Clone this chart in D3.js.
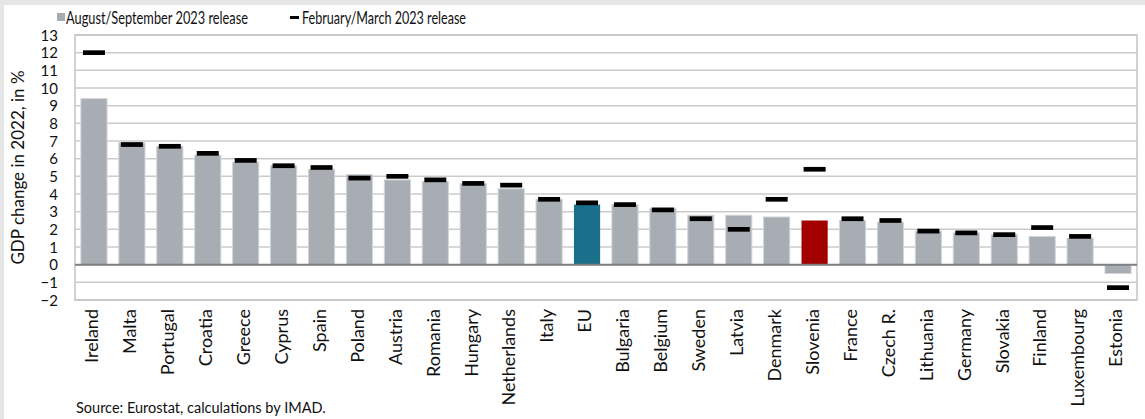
<!DOCTYPE html>
<html>
<head>
<meta charset="utf-8">
<script src="https://cdn.jsdelivr.net/npm/d3@7"></script>
<style>
  body { margin: 0; background: #e6e6e6; }
  svg { display: block; font-family: Lato, sans-serif; }
</style>
</head>
<body>
<svg id="chart"></svg>
<script>
const countries = ['Ireland', 'Malta', 'Portugal', 'Croatia', 'Greece', 'Cyprus', 'Spain', 'Poland', 'Austria',
  'Romania', 'Hungary', 'Netherlands', 'Italy', 'EU', 'Bulgaria', 'Belgium', 'Sweden', 'Latvia', 'Denmark',
  'Slovenia', 'France', 'Czech R.', 'Lithuania', 'Germany', 'Slovakia', 'Finland', 'Luxembourg', 'Estonia'];
// August/September 2023 release
const augSep = [9.4, 6.9, 6.7, 6.2, 5.8, 5.6, 5.4, 5.1, 4.8, 4.7, 4.6, 4.3, 3.7, 3.4, 3.4, 3.2, 2.8, 2.8, 2.7,
  2.5, 2.5, 2.4, 1.9, 1.8, 1.7, 1.6, 1.5, -0.5];
// February/March 2023 release
const febMar = [12.0, 6.8, 6.7, 6.3, 5.9, 5.6, 5.5, 4.9, 5.0, 4.8, 4.6, 4.5, 3.7, 3.5, 3.4, 3.1, 2.6, 2.0, 3.7,
  5.4, 2.6, 2.5, 1.9, 1.8, 1.7, 2.1, 1.6, -1.3];
const yTicks = [-2, -1, 0, 1, 2, 3, 4, 5, 6, 7, 8, 9, 10, 11, 12, 13];

let width = 1145, height = 419;
let margin = { left: 75, right: 8, top: 35, bottom: 119 };
let font = 'Lato, sans-serif';

const svg = d3.select('#chart')
    .attr('width', width)
    .attr('height', height);

// white panel, gray strip at top/left
svg.append('rect')
    .attr('x', 4).attr('y', 5)
    .attr('width', width - 4).attr('height', height - 5)
    .attr('fill', 'white');

const xScale = d3.scaleBand()
    .domain(countries)
    .range([margin.left, width - margin.right])
    .paddingInner(0.31)
    .paddingOuter(0.155);
const yScale = d3.scaleLinear()
    .domain([-2, 13])
    .range([height - margin.bottom, margin.top]);

// gridlines
svg.append('g')
    .selectAll('line')
    .data(yTicks)
    .enter()
    .append('line')
    .attr('x1', margin.left)
    .attr('x2', width - margin.right)
    .attr('y1', d => yScale(d))
    .attr('y2', d => yScale(d))
    .attr('stroke', '#cbcbcb')
    .attr('stroke-width', 1.5);

// frame
svg.append('rect')
    .attr('x', margin.left)
    .attr('y', yScale(13))
    .attr('width', width - margin.right - margin.left)
    .attr('height', yScale(-2) - yScale(13))
    .attr('fill', 'none')
    .attr('stroke', '#c4c4c4')
    .attr('stroke-width', 1.5);

const barColor = (d, i) => countries[i] === 'EU' ? '#1a6f8a' : countries[i] === 'Slovenia' ? '#a30000' : '#a7adb2';

svg.append('g')
    .selectAll('rect')
    .data(augSep)
    .enter()
    .append('rect')
    .attr('x', (d, i) => xScale(countries[i]))
    .attr('width', xScale.bandwidth())
    .attr('y', d => yScale(Math.max(d, 0)))
    .attr('height', d => Math.abs(yScale(d) - yScale(0)))
    .attr('fill', barColor)
    .attr('stroke', (d, i) => countries[i] === 'EU' || countries[i] === 'Slovenia' ? 'none' : '#d3d6d9')
    .attr('stroke-width', 1);

// zero line
svg.append('line')
    .attr('x1', margin.left)
    .attr('x2', width - margin.right)
    .attr('y1', yScale(0))
    .attr('y2', yScale(0))
    .attr('stroke', '#7d7f82')
    .attr('stroke-width', 2);

// markers
let markW = 22;
svg.append('g')
    .selectAll('line')
    .data(febMar)
    .enter()
    .append('line')
    .attr('x1', (d, i) => xScale(countries[i]) + xScale.bandwidth() / 2 - markW / 2)
    .attr('x2', (d, i) => xScale(countries[i]) + xScale.bandwidth() / 2 + markW / 2)
    .attr('y1', d => yScale(d))
    .attr('y2', d => yScale(d))
    .attr('stroke', '#000')
    .attr('stroke-width', 4.7);

// y axis
const yAxis = d3.axisLeft(yScale).tickValues(yTicks).tickFormat(d3.format('d')).tickSize(0).tickPadding(0);
const yG = svg.append('g')
    .attr('transform', `translate(${margin.left - 17},0)`)
    .call(yAxis)
    .attr('font-size', 15)
    .attr('font-family', font);
yG.select('.domain').remove();
yG.selectAll('text')
    .attr('fill', '#111')
    .attr('dy', '0.35em');

// x axis labels
const xAxis = d3.axisBottom(xScale).tickSize(0).tickPadding(0);
const xG = svg.append('g')
    .attr('transform', `translate(0,${yScale(-2)})`)
    .call(xAxis)
    .attr('font-size', 18)
    .attr('font-family', font);
xG.select('.domain').remove();
xG.selectAll('text')
    .attr('fill', '#111')
    .attr('text-anchor', 'end')
    .attr('transform', 'rotate(-90)')
    .attr('x', -9)
    .attr('y', -2)
    .attr('dy', '0.35em');

// y title
svg.append('text')
    .attr('transform', `translate(24,${(yScale(13) + yScale(-2)) / 2}) rotate(-90)`)
    .attr('text-anchor', 'middle')
    .attr('font-size', 17)
    .attr('fill', '#111')
    .text('GDP change in 2022, in %');

// legend
svg.append('rect')
    .attr('x', 57).attr('y', 13)
    .attr('width', 8).attr('height', 8)
    .attr('fill', '#a7adb2');
svg.append('text')
    .attr('x', 66).attr('y', 23.5)
    .attr('font-size', 16.5)
    .attr('fill', '#111')
    .attr('textLength', 182)
    .attr('lengthAdjust', 'spacingAndGlyphs')
    .text('August/September 2023 release');
svg.append('line')
    .attr('x1', 290).attr('x2', 299)
    .attr('y1', 17.5).attr('y2', 17.5)
    .attr('stroke', '#000').attr('stroke-width', 3);
svg.append('text')
    .attr('x', 302).attr('y', 23.5)
    .attr('font-size', 16.5)
    .attr('fill', '#111')
    .attr('textLength', 164)
    .attr('lengthAdjust', 'spacingAndGlyphs')
    .text('February/March 2023 release');

// source
svg.append('text')
    .attr('x', 76).attr('y', 413)
    .attr('font-size', 14.5)
    .attr('fill', '#111')
    .text('Source: Eurostat, calculations by IMAD.');
</script>
</body>
</html>
